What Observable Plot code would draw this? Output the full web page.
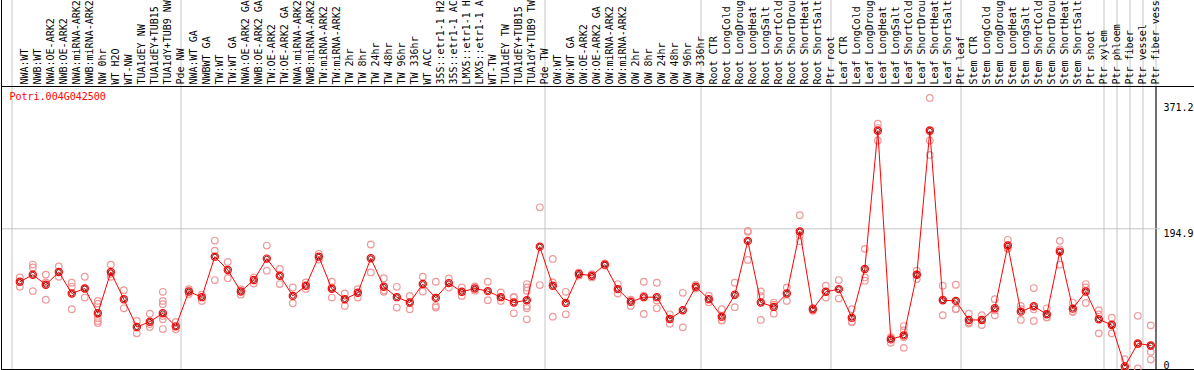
<!DOCTYPE html>
<html>
<head>
<meta charset="utf-8">
<script src="https://cdn.jsdelivr.net/npm/d3@7"></script>
<script src="https://cdn.jsdelivr.net/npm/@observablehq/plot@0.6"></script>
<style>
  html, body { margin: 0; padding: 0; background: white; }
  #chart svg { display: block; }
</style>
</head>
<body>
<div id="chart"></div>
<script>
const title = "Potri.004G042500";

const labels = [
  "NWA:WT", "NWB:WT", "NWA:OE-ARK2", "NWB:OE-ARK2", "NWA:miRNA-ARK2", "NWB:miRNA-ARK2",
  "NW 0hr", "WT H2O", "WT-NW", "TUA1dEY NW", "TUA1dEY+TUB15 NW", "TUA1dY+TUB9 NW", "Pde NW",
  "NWA:WT GA", "NWBWT GA", "TW:WT", "TW:WT GA", "NWA:OE-ARK2 GA", "NWB:OE-ARK2 GA",
  "TW:OE-ARK2", "TW:OE-ARK2 GA", "NWA:miRNA-ARK2 GA", "NWB:miRNA-ARK2 GA", "TW:miRNA-ARK2",
  "TW:miRNA-ARK2 GA", "TW 2hr", "TW 8hr", "TW 24hr", "TW 48hr", "TW 96hr", "TW 336hr",
  "WT ACC", "35S::etr1-1 H2O", "35S::etr1-1 ACC", "LMX5::etr1-1 H2O", "LMX5::etr1-1 ACC",
  "WT-TW", "TUA1dEY TW", "TUA1dEY+TUB15 TW", "TUA1dY+TUB9 TW", "Pde TW",
  "OW:WT", "OW:WT GA", "OW:OE-ARK2", "OW:OE-ARK2 GA", "OW:miRNA-ARK2", "OW:miRNA-ARK2 GA",
  "OW 2hr", "OW 8hr", "OW 24hr", "OW 48hr", "OW 96hr", "OW 336hr",
  "Root CTR", "Root LongCold", "Root LongDrought", "Root LongHeat", "Root LongSalt",
  "Root ShortCold", "Root ShortDrought", "Root ShortHeat", "Root ShortSalt", "Ptr root",
  "Leaf CTR", "Leaf LongCold", "Leaf LongDrought", "Leaf LongHeat", "Leaf LongSalt",
  "Leaf ShortCold", "Leaf ShortDrought", "Leaf ShortHeat", "Leaf ShortSalt", "Ptr leaf",
  "Stem CTR", "Stem LongCold", "Stem LongDrought", "Stem LongHeat", "Stem LongSalt",
  "Stem ShortCold", "Stem ShortDrought", "Stem ShortHeat", "Stem ShortSalt", "Ptr shoot",
  "Ptr xylem", "Ptr phloem", "Ptr fiber", "Ptr vessel", "Ptr fiber vessel"
];

const means = [
  121, 130.8, 116.8, 134.6, 104.6, 111.6, 77, 134.6, 96.7, 57.8, 65.3, 77, 58.8,
  107.4, 99.5, 156, 137.4, 107.4, 123.4, 153.3, 129.4, 101.3, 115.4, 156, 111.2,
  96.7, 105.6, 153.7, 114, 99.5, 92, 117.8, 98.5, 119.1, 107, 111.6, 107.9, 99.5, 92, 95.3, 170,
  115.4, 91.5, 131.8, 129.4, 144.9, 110.7, 92.9, 99.5, 99.5, 69, 81.3, 114,
  96.7, 72.3, 102.8, 178, 92, 85.9, 104.6, 191.2, 82.7, 107,
  110.7, 70.9, 138.8, 331.6, 40.6, 46.2, 130.8, 331.6, 95.3, 94.3,
  67.7, 67.7, 84, 171.5, 79.3, 86.9, 75.6, 163.1, 83.5, 107.4, 68.6,
  60.6, 3, 34.9, 32.1
];

const replicates = [
  [127, 114], [145, 141, 108], [131, 120, 96], [142.5, 128], [119.6, 114, 82.7],
  [128, 111.6, 99], [94.3, 90.5, 70, 66.3, 63.4], [144.9, 131.8, 128], [109.3, 84],
  [66.3, 49], [76.5, 62, 57.8], [107, 94.3, 89.7, 73.3, 68.6, 55], [64.9, 54.6],
  [110.7, 104], [103, 94.3], [178.5, 164.5, 123.4], [148.6, 126], [110.7, 103],
  [127, 118.6], [171.5, 136.4], [138.8, 117.8], [113, 91], [120, 111], [160, 152],
  [121, 113, 99], [104.6, 87.3], [110.7, 99], [173, 134], [126, 109, 107], [114, 85],
  [101.3, 82.7], [128, 107.4], [121, 87.3, 85], [125.7, 113], [113, 101.3], [114.5, 108.5],
  [121, 95.3], [106, 94.3], [100, 99, 77], [117.8, 113, 108.4, 87.3, 84, 68.6], [116.4, 224.9],
  [152.8, 120, 72.3], [107, 75.6], [134, 129.5], [131.5, 127], [146.5, 143.5], [117.8, 104.6],
  [96, 95, 87.3], [121, 101.5, 76], [119.6, 95, 84], [75.6, 62.5], [105.6, 57.4], [116.5, 111.5],
  [101.5, 92.5], [82.7, 67.2, 67], [119.6, 85.5], [190.7, 192, 151.5], [107.4, 101, 67.7],
  [92, 89, 76.5], [113, 94.3], [213.8, 185.6, 177.6], [84.5, 80.5], [115.4, 99],
  [123.4, 97.6], [82.7, 65, 64.9], [166.9, 127, 122.5], [341.4, 335.4, 318], [43.8, 42.2, 35.8],
  [59.2, 53.2, 43.6, 28.8], [136.4, 131.2, 124.8], [377.4, 333, 318, 297.9], [115.4, 96.2, 74.3],
  [116.8, 83.4, 82.7], [76.5, 64, 62.6], [74.3, 68.2, 60.6], [96.7, 81, 74.3], [179.5, 168, 166.9],
  [87.3, 82.9, 67.7], [112.2, 82.5, 66.3], [84, 71.5, 71.3], [178.1, 166.3, 144.9], [92, 79.5, 79],
  [117.8, 113, 91.4], [81.3, 75.5, 49], [70.9, 62, 49], [13, 0, 0], [73.5, 34, 0],
  [60.2, 32, 23.2, 12.5]
];

const groupStarts = [0, 13, 41, 53, 63, 73, 84, 85, 86, 87, 88];
const yTicks = [371.2, 194.9, 0];
const yGrid = [194.9];

const repTable = replicates.flatMap((vals, i) => vals.map(v => ({i, v})));
const meanTable = means.map((v, i) => ({i, v}));

const chart = Plot.plot({
  width: 1194,
  height: 370,
  marginLeft: 1,
  marginRight: 39,
  marginTop: 86,
  marginBottom: 1,
  style: {fontFamily: "DejaVu Sans Mono", fontSize: "10px", background: "white", overflow: "hidden"},
  x: {type: "linear", domain: [0, 87], range: [19.3, 1150.3], axis: null},
  y: {type: "linear", domain: [0, 371.2], range: [368, 101.9], axis: null},
  marks: [
    Plot.ruleX(groupStarts, {x: d => d - 0.6, stroke: "#c4c4c4", strokeWidth: 1, insetTop: -86}),
    Plot.ruleX(groupStarts.slice(-1), {x: d => d - 0.6, stroke: "black", strokeWidth: 1}),
    Plot.ruleY(yGrid, {y: d => d, stroke: "#c4c4c4", strokeWidth: 1, insetRight: -5}),
    Plot.frame({anchor: "left", insetTop: -86, stroke: "black"}),
    Plot.frame({anchor: "top", insetRight: -40, stroke: "black"}),
    Plot.frame({anchor: "bottom", insetRight: -40, stroke: "black"}),
    Plot.text(labels, {x: (d, i) => i, text: d => d, frameAnchor: "top", rotate: -90,
      textAnchor: "start", dy: -2, dx: 1, fill: "black"}),
    Plot.text([title], {text: d => d, frameAnchor: "top-left", dx: 8, dy: 6.5,
      textAnchor: "start", lineAnchor: "top", fill: "red"}),
    Plot.text(yTicks.filter(v => v > 0), {y: d => d, text: d => String(d), frameAnchor: "right",
      dx: 8, dy: 1, textAnchor: "start", lineAnchor: "top", fill: "black"}),
    Plot.text(yTicks.filter(v => v === 0), {y: d => d, text: d => String(d), frameAnchor: "right",
      dx: 8, dy: 0, textAnchor: "start", lineAnchor: "bottom", fill: "black"}),
    Plot.dot(repTable, {x: "i", y: "v", r: 3.3, stroke: "#ee9999", strokeWidth: 1.2, fill: "none"}),
    Plot.line(meanTable, {x: "i", y: "v", stroke: "red", strokeWidth: 1}),
    Plot.dot(meanTable, {x: "i", y: "v", r: 3.6, stroke: "red", strokeWidth: 1.2, fill: "none"}),
    Plot.dot(meanTable, {x: "i", y: "v", r: 2.4, stroke: "#700000", strokeWidth: 0.9, fill: "none"})
  ]
});
document.getElementById("chart").appendChild(chart);
</script>
</body>
</html>
